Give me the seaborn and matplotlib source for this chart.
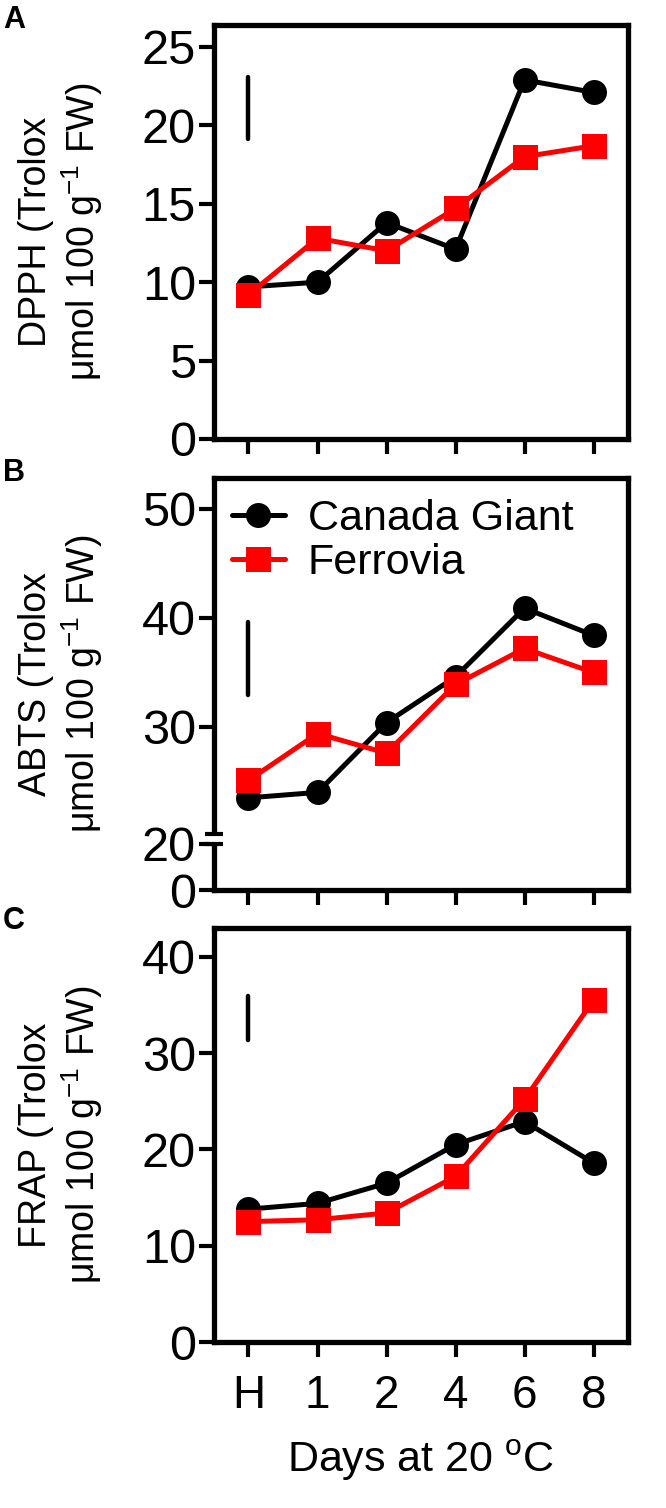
import numpy as np
import pandas as pd
import matplotlib
matplotlib.use("Agg")
import matplotlib.pyplot as plt
import matplotlib.transforms as mtrans
from matplotlib.lines import Line2D
import seaborn as sns

sns.set_theme(style="ticks")
plt.rcParams["font.family"] = ["Liberation Sans", "DejaVu Sans"]
plt.rcParams["mathtext.fontset"] = "custom"
plt.rcParams["mathtext.rm"] = "Liberation Sans"
plt.rcParams["mathtext.it"] = "Liberation Sans:italic"
plt.rcParams["mathtext.bf"] = "Liberation Sans:bold"
for k in ["text.color", "axes.labelcolor", "xtick.color", "ytick.color",
          "xtick.labelcolor", "ytick.labelcolor", "axes.edgecolor"]:
    plt.rcParams[k] = "black"

# ---------------- data ----------------
days = ["H", "1", "2", "4", "6", "8"]
cultivars = ["Canada Giant", "Ferrovia"]

dpph_cg = [9.7, 10.0, 13.8, 12.1, 22.9, 22.1]
dpph_fe = [9.2, 12.8, 12.0, 14.7, 18.0, 18.7]
abts_cg = [23.5, 24.0, 30.4, 34.6, 40.9, 38.4]
abts_fe = [25.1, 29.4, 27.6, 33.9, 37.2, 35.0]
frap_cg = [13.8, 14.4, 16.5, 20.5, 22.9, 18.6]
frap_fe = [12.5, 12.7, 13.4, 17.2, 25.2, 35.5]

lsd_dpph = [19.1, 23.1]
lsd_abts = [32.9, 39.6]
lsd_frap = [31.4, 35.9]

dpph_ticks = [0, 5, 10, 15, 20, 25]
abts_ticks = [0, 20, 30, 40, 50]
frap_ticks = [0, 10, 20, 30, 40]

ylabels = [
    "DPPH (Trolox\nμmol 100 g$^{-1}$ FW)",
    "ABTS (Trolox\nμmol 100 g$^{-1}$ FW)",
    "FRAP (Trolox\nμmol 100 g$^{-1}$ FW)",
]
panel_letters = ["A", "B", "C"]
xlabel = "Days at 20 $^{\\mathrm{o}}$C"

palette = {"Canada Giant": "#000000", "Ferrovia": "#ff0000"}
markers = {"Canada Giant": "o", "Ferrovia": "s"}


def long_df(cg, fe):
    return pd.DataFrame({
        "pos": list(range(len(days))) * 2,
        "value": list(cg) + list(fe),
        "cultivar": [cultivars[0]] * len(cg) + [cultivars[1]] * len(fe),
    })


# broken y scale for ABTS (0-20 compressed, break, 20-50 linear)
def abts_fwd(y):
    y = np.asarray(y, float)
    return np.where(y <= 20, y * 2.3,
                    np.where(y <= 21, 46 + (y - 20) * 18.9, 64.9 + (y - 21) * 10.9))


def abts_inv(f):
    f = np.asarray(f, float)
    return np.where(f <= 46, f / 2.3,
                    np.where(f <= 64.9, 20 + (f - 46) / 18.9, 21 + (f - 64.9) / 10.9))


# ---------------- figure ----------------
W, H = 666, 1508
fig = plt.figure(figsize=(W / 100, H / 100), dpi=100)


def add_ax(top, bottom):
    return fig.add_axes([214 / W, 1 - bottom / H, 414 / W, (bottom - top) / H])


axA = add_ax(25, 439)
axB = add_ax(478, 890)
axC = add_ax(928, 1342)
axes = [axA, axB, axC]

datasets = [(dpph_cg, dpph_fe), (abts_cg, abts_fe), (frap_cg, frap_fe)]
lsds = [lsd_dpph, lsd_abts, lsd_frap]
ticks = [dpph_ticks, abts_ticks, frap_ticks]
ylims = [(0, 26.4), (0, 52.84), (0, 43.0)]
letter_tops = [5, 458, 906]

axB.set_yscale("function", functions=(abts_fwd, abts_inv))

for i, ax in enumerate(axes):
    cg, fe = datasets[i]
    df = long_df(cg, fe)
    sns.lineplot(data=df, x="pos", y="value", hue="cultivar", style="cultivar",
                 hue_order=cultivars, style_order=cultivars,
                 palette=palette, markers=markers, dashes=False,
                 markersize=18, linewidth=3.6, markeredgewidth=0,
                 legend=False, ax=ax, zorder=3)
    # LSD bar
    ax.vlines(0, lsds[i][0], lsds[i][1], color="black", linewidth=3.2,
              capstyle="round", zorder=3)

    ax.set_xlim(-0.5, len(days) - 0.5)
    ax.set_ylim(*ylims[i])
    ax.set_xticks(range(len(days)))
    ax.set_yticks(ticks[i])
    ax.set_yticklabels([str(t) for t in ticks[i]])
    ax.set_xticklabels(days)
    ax.minorticks_off()

    for s in ax.spines.values():
        s.set_visible(True)
        s.set_linewidth(3.8)
        s.set_color("black")
    ax.tick_params(axis="both", direction="out", length=11, width=3,
                   color="black", labelcolor="black")
    ax.tick_params(axis="y", labelsize=35, pad=2, left=True, right=False)
    ax.tick_params(axis="x", labelsize=33, pad=12, bottom=True, top=False)
    if i < 2:
        ax.tick_params(axis="x", labelbottom=False)
        ax.set_xlabel("")
    else:
        ax.set_xlabel(xlabel, fontsize=31, labelpad=14, color="black")

    ax.set_ylabel(ylabels[i], fontsize=27, linespacing=1.15, color="black")
    ax.yaxis.set_label_coords(-0.263, 0.5)
    ax.set_facecolor("white")

    fig.text(3 / W, 1 - letter_tops[i] / H, panel_letters[i], ha="left", va="top",
             fontsize=22, fontweight="bold", color="black")

# axis break marks on ABTS panel
trans = mtrans.blended_transform_factory(axB.transAxes, axB.transData)
axB.plot([0, 0], [20.0, 20.53], transform=trans, color="white", linewidth=7,
         clip_on=False, zorder=5, solid_capstyle="butt")
for yb in (20.0, 20.53):
    axB.plot([-0.022, 0.022], [yb, yb], transform=trans, color="black",
             linewidth=3, clip_on=False, zorder=6, solid_capstyle="butt")

# legend in panel B
handles = [Line2D([], [], color=palette[c], marker=markers[c], markersize=18,
                  linewidth=3.6, markeredgewidth=0) for c in cultivars]
leg = axB.legend(handles, cultivars, loc="upper left", bbox_to_anchor=(0.0435, 0.949),
                 frameon=False, fontsize=31, handlelength=1.23, handletextpad=0.53,
                 labelspacing=0.1, borderpad=0, borderaxespad=0)
for t in leg.get_texts():
    t.set_color("black")

fig.savefig("out.png", dpi=100, facecolor="white")
